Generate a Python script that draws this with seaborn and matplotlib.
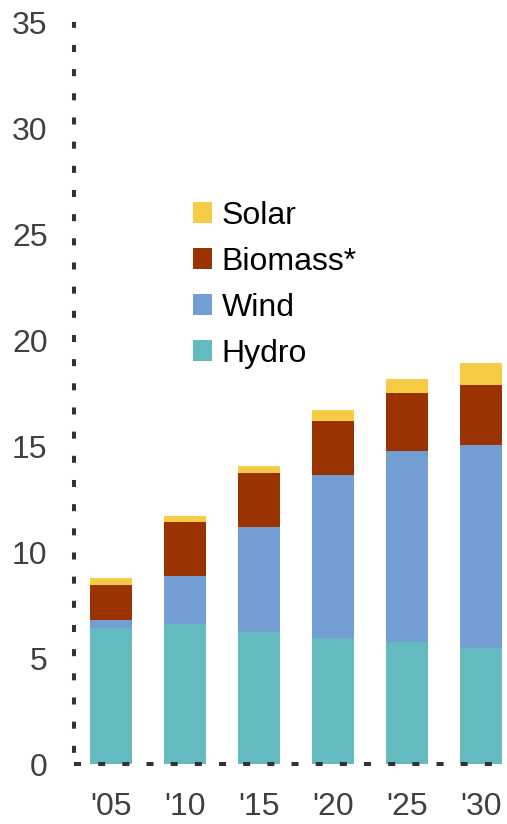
import numpy as np
import pandas as pd
import seaborn as sns
import matplotlib.pyplot as plt

# データ（各年の発電量、積み上げ）
years = ["'05", "'10", "'15", "'20", "'25", "'30"]
hydro = [6.42, 6.60, 6.23, 5.94, 5.75, 5.47]
wind = [0.37, 2.27, 4.95, 7.69, 9.01, 9.58]
biomass = [1.65, 2.55, 2.55, 2.55, 2.74, 2.83]
solar = [0.33, 0.28, 0.33, 0.52, 0.66, 1.04]

series = ["Hydro", "Wind", "Biomass*", "Solar"]
colors = {"Hydro": "#63BBBF", "Wind": "#729ED3", "Biomass*": "#9B3300", "Solar": "#F7CC45"}

df = pd.DataFrame({"year": years, "Hydro": hydro, "Wind": wind,
                   "Biomass*": biomass, "Solar": solar})
# 累積値（上から順に重ねて描く）
cum = df[series].cumsum(axis=1)
cum["year"] = years

sns.set_style("white")
plt.rcParams['font.family'] = ['Liberation Sans', 'DejaVu Sans']

fig = plt.figure(figsize=(5.07, 8.24), dpi=100)
ax = fig.add_axes([74 / 507, 60 / 824, 433 / 507, 742 / 824])

for name in reversed(series):
    sns.barplot(data=cum, x="year", y=name, color=colors[name], width=0.575,
                saturation=1, label=name, linewidth=0, edgecolor="none", ax=ax)

ax.set_xlim(-0.5, 5.35)
ax.set_ylim(0, 35)
ax.set_yticks(range(0, 36, 5))
ax.set_xlabel("")
ax.set_ylabel("")
ax.tick_params(axis="both", length=0, labelsize=23, labelcolor="#404040")
ax.tick_params(axis="y", pad=19)
ax.tick_params(axis="x", pad=20)

for side in ["top", "right"]:
    ax.spines[side].set_visible(False)
for side, off in [("left", 3.23), ("bottom", 0)]:
    sp = ax.spines[side]
    sp.set_visible(True)
    sp.set_color("#333333")
    sp.set_linewidth(2.9)
    sp.set_linestyle((off, (1.75, 4.25)))
    sp.set_capstyle("butt")
    sp.set_zorder(5)

handles, labels = ax.get_legend_handles_labels()
ax.legend(handles, labels, loc="upper left", bbox_to_anchor=(0.275, 0.759),
          frameon=False, fontsize=23, handlelength=0.6, handleheight=0.6,
          handletextpad=0.3, labelspacing=0.5, borderpad=0, borderaxespad=0,
          labelcolor="black")

fig.savefig("out.png", dpi=100)
